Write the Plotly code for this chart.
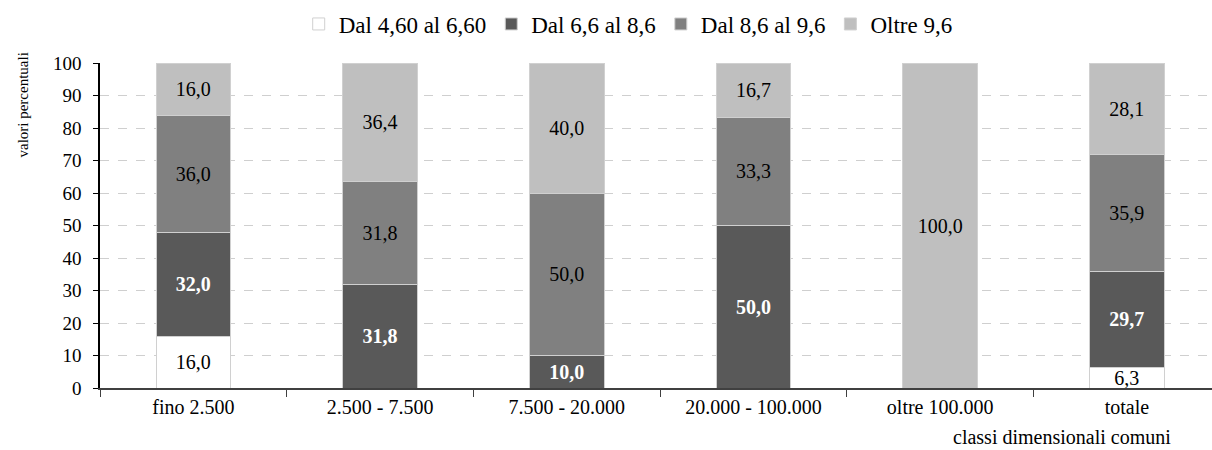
import plotly.graph_objects as go

# Classi dimensionali dei comuni
categorie = ["fino 2.500", "2.500 - 7.500", "7.500 - 20.000",
             "20.000 - 100.000", "oltre 100.000", "totale"]

# Quote percentuali per fascia
dal_460_660 = [16.0, 0, 0, 0, 0, 6.3]
dal_66_86 = [32.0, 31.8, 10.0, 50.0, 0, 29.7]
dal_86_96 = [36.0, 31.8, 50.0, 33.3, 0, 35.9]
oltre_96 = [16.0, 36.4, 40.0, 16.7, 100.0, 28.1]

serie = [
    ("Dal 4,60 al 6,60", dal_460_660, "#ffffff", "#000000", False),
    ("Dal 6,6 al 8,6", dal_66_86, "#595959", "#ffffff", True),
    ("Dal 8,6 al 9,6", dal_86_96, "#808080", "#000000", False),
    ("Oltre 9,6", oltre_96, "#bfbfbf", "#000000", False),
]

FONT = "Liberation Serif"


def etichetta(v, grassetto):
    if not v:
        return ""
    s = f"{v:.1f}".replace(".", ",")
    return f"<b>{s}</b>" if grassetto else s


fig = go.Figure()
for nome, valori, colore, col_testo, grassetto in serie:
    fig.add_trace(go.Bar(
        name=nome,
        x=categorie,
        y=[v if v else None for v in valori],
        text=[etichetta(v, grassetto) for v in valori],
        textposition="inside",
        insidetextanchor="middle",
        textangle=0,
        constraintext="none",
        textfont=dict(family=FONT, size=20, color=col_testo),
        marker=dict(color=colore, line=dict(color="#d0d0d0", width=1)),
        width=0.4,
        hoverinfo="skip",
    ))

fig.update_layout(
    barmode="stack",
    width=1212,
    height=450,
    margin=dict(l=100, r=0, t=63, b=62),
    paper_bgcolor="white",
    plot_bgcolor="white",
    font=dict(family=FONT, size=19, color="#000000"),
    legend=dict(
        orientation="h",
        x=0.475, xanchor="center",
        y=1.12, yanchor="middle",
        font=dict(family=FONT, size=23, color="#000000"),
        itemwidth=30,
        traceorder="normal",
    ),
    xaxis=dict(
        type="category",
        range=[-0.5, 5.456],
        showline=True, linecolor="#404040", linewidth=1.5,
        ticks="outside", ticklen=7, tickcolor="#404040",
        tickson="boundaries",
        showgrid=False,
        tickfont=dict(family=FONT, size=20, color="#000000"),
    ),
    yaxis=dict(
        range=[0, 100],
        tick0=0, dtick=10,
        showline=True, linecolor="#000000", linewidth=1.5,
        ticks="outside", ticklen=5, tickcolor="#000000",
        ticklabelstandoff=8,
        showgrid=True, gridcolor="#cfcfcf", griddash="dash", gridwidth=1,
        zeroline=False,
        tickfont=dict(family=FONT, size=19, color="#000000"),
    ),
    annotations=[
        dict(text="valori percentuali", textangle=-90,
             xref="paper", yref="paper", x=-0.069, y=0.87,
             xanchor="center", yanchor="middle", showarrow=False,
             font=dict(family=FONT, size=15, color="#000000")),
        dict(text="classi dimensionali comuni",
             xref="paper", yref="paper", x=0.965, y=-0.15,
             xanchor="right", yanchor="middle", showarrow=False,
             font=dict(family=FONT, size=20, color="#000000")),
    ],
)

fig.write_html("out.html")
